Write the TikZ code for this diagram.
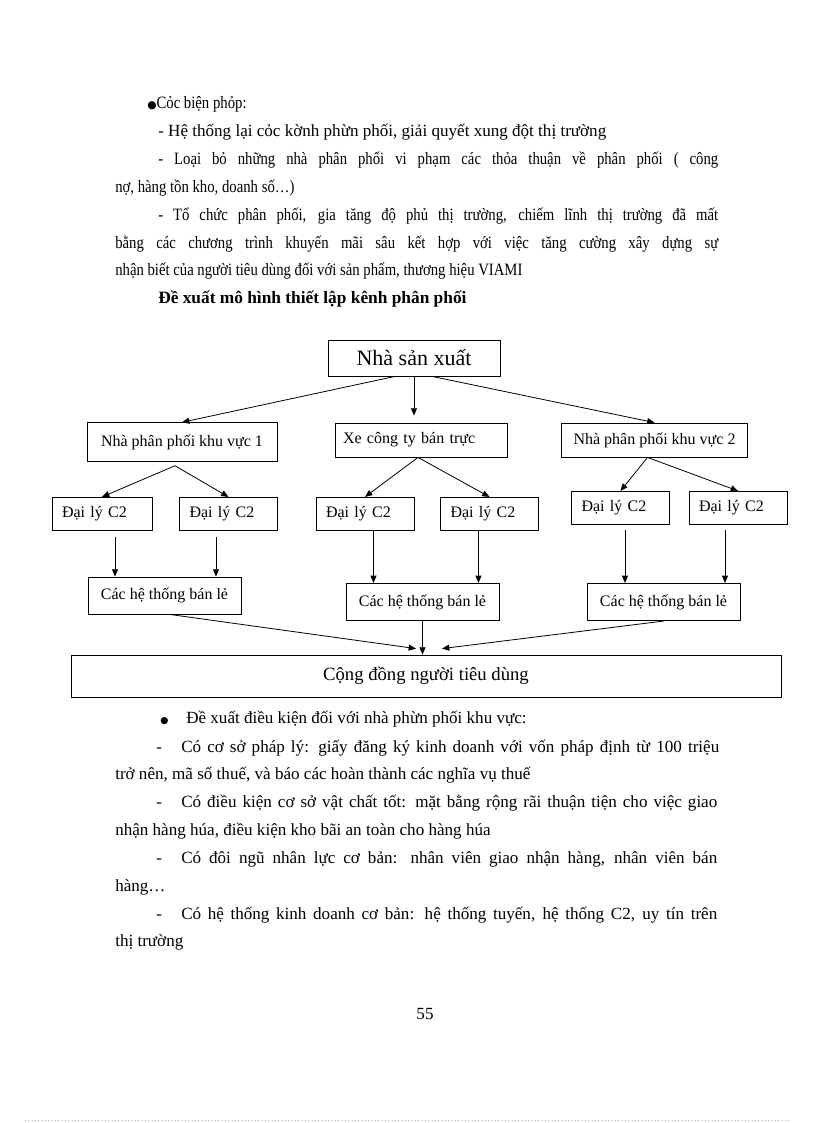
\documentclass[tikz,border=0pt]{standalone}
\usepackage{fontspec}
\setmainfont{Liberation Serif}
\newfontfamily\bodyfont[FakeStretch=0.85]{Liberation Serif}
\newfontfamily\dotfont{DejaVu Sans}
\usetikzlibrary{positioning,arrows.meta,calc}
\newcommand\fullline[2]{\makebox[#1][s]{#2}}
\newcommand\dashlead{\makebox[18.75pt][l]{-}}

\begin{document}
\begin{tikzpicture}[
  x=0.75pt, y=-0.75pt,
  box/.style={draw, line width=0.6pt, inner sep=0pt, font=\fontsize{12}{14}\selectfont},
  dlbox/.style={box, text width=58.5pt, inner xsep=7.5pt, align=left, minimum height=25pt},
  retail/.style={box, minimum width=114.75pt, minimum height=28pt},
  txt/.style={anchor=mid west, inner sep=0pt, font=\bodyfont\fontsize{13}{15}\selectfont},
  txtb/.style={anchor=mid west, inner sep=0pt, font=\fontsize{12.8}{15}\selectfont},
  arrow/.style={-{Triangle[length=5.5pt,width=4.5pt]}, line width=0.6pt},
]
\useasboundingbox (0,0) rectangle (816,1123);

\node[txt] (l1) at (147,105) {{\dotfont\fontsize{8}{9}\selectfont ●}Cỏc biện phỏp:};
\node[txtb] (l2) at (158,133) {- Hệ thống lại cỏc kờnh phừn phối, giải quyết xung đột thị trường};
\node[txt] (l3) at (158,161) {\fullline{420pt}{- Loại bỏ những nhà phân phối vi phạm các thỏa thuận về phân phối ( công}};
\node[txt] (l4) at (115,189) {nợ, hàng tồn kho, doanh số…)};
\node[txt] (l5) at (158,217) {\fullline{420pt}{- Tổ chức phân phối, gia tăng độ phủ thị trường, chiếm lĩnh thị trường đã mất}};
\node[txt] (l6) at (115,245) {\fullline{452.25pt}{bằng các chương trình khuyến mãi sâu kết hợp với việc tăng cường xây dựng sự}};
\node[txt] (l7) at (115,272) {nhận biết của người tiêu dùng đối với sản phẩm, thương hiệu VIAMI};
\node[txt, font=\bfseries\fontsize{13}{15}\selectfont] (l8) at (158,300) {Đề xuất mô hình thiết lập kênh phân phối};

\node[box, minimum width=129pt, minimum height=27pt, font=\fontsize{16.5}{18}\selectfont] (nsx) at (414,358) {Nhà sản xuất};

\node[box, minimum width=142.5pt, minimum height=29pt] (npp1) at (182,442) {Nhà phân phối khu vực 1};
\node[box, text width=117pt, inner xsep=6pt, align=left, minimum height=25.5pt] (xe) at (421,440) {Xe công ty bán trực};
\node[box, minimum width=140pt, minimum height=25.5pt] (npp2) at (654.5,440) {Nhà phân phối khu vực 2};

\node[dlbox, text width=60pt] (A1) at (102,514) {Đại lý C2};
\node[dlbox] (A2) at (228.5,514) {Đại lý C2};
\node[dlbox] (B1) at (365,514) {Đại lý C2};
\node[dlbox] (B2) at (489.5,514) {Đại lý C2};
\node[dlbox] (C1) at (620.5,508) {Đại lý C2};
\node[dlbox] (C2) at (738,508) {Đại lý C2};

\node[retail, minimum height=27.75pt] (R1) at (164.5,595.5) {Các hệ thống bán lẻ};
\node[retail] (R2) at (422.5,602) {Các hệ thống bán lẻ};
\node[retail] (R3) at (663.5,602) {Các hệ thống bán lẻ};

\node[box, minimum width=532.5pt, minimum height=31.5pt, font=\fontsize{14}{16}\selectfont] (cd) at (426,676) {Cộng đồng người tiêu dùng};

\draw[arrow] ($(nsx.south)+(-19,0)$) -- (npp1.north);
\draw[arrow] (nsx.south) -- ($(nsx.south |- xe.north)+(0,-7)$);
\draw[arrow] ($(nsx.south)+(18,0)$) -- (npp2.north);

\coordinate (p1) at ($(npp1.south)+(-7,4)$);
\coordinate (p2) at ($(xe.south)+(-3,0)$);
\coordinate (p3) at ($(npp2.south)+(-7,0)$);
\foreach \src/\dst in {p1/A1,p1/A2,p2/B1,p2/B2,p3/C1,p3/C2} { \draw[arrow] (\src) -- (\dst.north); }

\foreach \src/\dst/\dx/\dy in {A1/R1/13/6,A2/R1/-12.5/6,B1/R2/8.5/0,B2/R2/-11/0,C1/R3/4.5/5,C2/R3/-13/5} {
  \coordinate (s) at ($(\src.south)+(\dx,\dy)$);
  \draw[arrow] (s) -- (s |- \dst.north);
}

\draw[arrow] ($(R1.south)+(5,0)$) -- ($(cd.north)+(-10,-6)$);
\draw[arrow] (R2.south) -- (R2.south |- cd.north);
\draw[arrow] (R3.south) -- ($(cd.north)+(16,-6)$);

\node[txtb] (b1) at (160,720) {\makebox[19.5pt][l]{\dotfont\fontsize{7}{9}\selectfont ●}Đề xuất điều kiện đối với nhà phừn phối khu vực:};
\node[txtb] (b2) at (156,749) {\dashlead\fullline{403.5pt}{Có cơ sở pháp  lý: giấy đăng ký kinh doanh với vốn pháp  định từ 100 triệu}};
\node[txtb] (b3) at (115,776) {trở nên, mã số thuế, và báo các hoàn thành các nghĩa vụ thuế};
\node[txtb] (b4) at (156,804) {\dashlead\fullline{402pt}{Có điều kiện cơ sở vật  chất tốt: mặt bằng rộng rãi thuận tiện cho việc giao}};
\node[txtb] (b5) at (115,832) {nhận hàng húa, điều kiện kho bãi an toàn cho hàng húa};
\node[txtb] (b6) at (156,860) {\dashlead\fullline{402pt}{Có đôi ngũ nhân lực cơ bản: nhân viên giao nhận hàng, nhân viên bán}};
\node[txtb] (b7) at (115,888) {hàng…};
\node[txtb] (b8) at (156,916) {\dashlead\fullline{402pt}{Có hệ thống kinh doanh cơ bản: hệ thống tuyến, hệ thống C2, uy tín trên}};
\node[txtb] (b9) at (115,943) {thị trường};

\node[txtb, anchor=mid] (pg) at (425,1016) {55};

\draw[gray!60, dotted, line width=0.5pt] (25,1120) -- (790,1120);
\end{tikzpicture}
\end{document}
